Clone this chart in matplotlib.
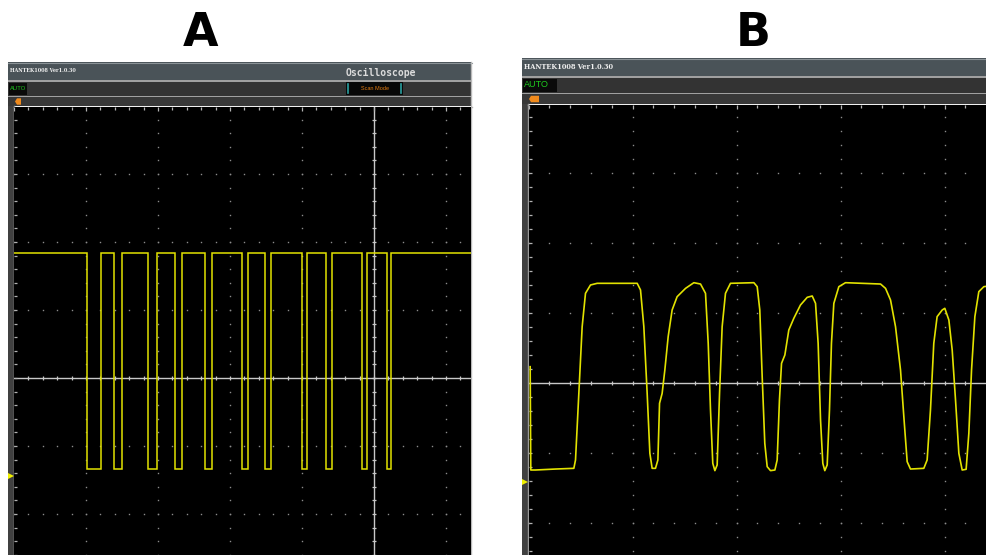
import matplotlib
matplotlib.use('Agg')
import matplotlib.pyplot as plt
import numpy as np
from matplotlib.patches import Rectangle, Polygon
from matplotlib.transforms import blended_transform_factory

# ---------------- data (oscilloscope divisions) ----------------
# Panel A: square pulse train -> edge times (div) and levels (div)
a_edges = [1.01, 1.21, 1.39, 1.50, 1.86, 1.99, 2.24, 2.33, 2.65, 2.75,
           3.17, 3.25, 3.49, 3.57, 4.00, 4.07, 4.33, 4.42, 4.83, 4.90,
           5.18, 5.24]
a_high = 1.84
a_low = -1.34
a_ground = -1.44

# Panel B: distorted waveform, time (div) and voltage (div)
b_t = [0.016, 0.022, 0.067, 0.26, 0.436, 0.452, 0.484, 0.516, 0.548, 0.596,
       0.66, 1.045, 1.077, 1.109, 1.141, 1.167, 1.189, 1.221, 1.244, 1.26,
       1.285, 1.311, 1.343, 1.381, 1.429, 1.51, 1.59, 1.654, 1.702, 1.728,
       1.75, 1.772, 1.792, 1.814, 1.837, 1.862, 1.894, 1.942, 2.167, 2.199,
       2.224, 2.247, 2.272, 2.295, 2.327, 2.369, 2.391, 2.413, 2.433, 2.465,
       2.503, 2.551, 2.615, 2.68, 2.728, 2.76, 2.785, 2.808, 2.83, 2.849,
       2.872, 2.894, 2.913, 2.936, 2.984, 3.048, 3.385, 3.433, 3.481, 3.529,
       3.577, 3.609, 3.641, 3.673, 3.801, 3.833, 3.865, 3.897, 3.929, 3.978,
       4.003, 4.042, 4.074, 4.106, 4.138, 4.17, 4.208, 4.234, 4.26, 4.292,
       4.33, 4.378, 4.426]
b_v = [0.233, -1.243, -1.243, -1.229, -1.219, -1.1, -0.148, 0.805, 1.281, 1.4,
       1.424, 1.424, 1.329, 0.805, -0.148, -1.005, -1.219, -1.219, -1.1, -0.29,
       -0.148, 0.186, 0.662, 1.043, 1.233, 1.352, 1.433, 1.414, 1.281, 0.567,
       -0.386, -1.148, -1.252, -1.171, -0.148, 0.805, 1.281, 1.424, 1.433, 1.376,
       1.043, 0.09, -0.862, -1.195, -1.252, -1.243, -1.1, -0.243, 0.281, 0.4,
       0.757, 0.924, 1.114, 1.224, 1.243, 1.138, 0.567, -0.529, -1.148, -1.252,
       -1.171, -0.386, 0.567, 1.138, 1.376, 1.433, 1.414, 1.352, 1.186, 0.805,
       0.186, -0.481, -1.124, -1.229, -1.219, -1.1, -0.386, 0.567, 0.948, 1.043,
       1.067, 0.9, 0.471, -0.243, -1.005, -1.243, -1.233, -0.719, 0.186, 0.948,
       1.305, 1.376, 1.386]
b_ground = -1.41

panel_labels = ["A", "B"]
version_text = "HANTEK1008 Ver1.0.30"

# ---------------- layout ----------------
W, H = 986, 555
fig = plt.figure(figsize=(W / 100, H / 100), dpi=100)
fig.patch.set_facecolor('white')

ov = fig.add_axes([0, 0, 1, 1], zorder=0)
ov.set_xlim(0, W)
ov.set_ylim(H, 0)
ov.axis('off')

HEAD = '#4a5358'
ROW = '#333333'
SEP = '#a0a0a0'
MROW = '#383838'
STRIP = '#404040'
TRACE = '#e2e200'
GRID = '#8c8c8c'
CROSS = '#c8c8c8'


def rect(x0, y0, x1, y1, color, z=1):
    ov.add_patch(Rectangle((x0, y0), x1 - x0, y1 - y0, facecolor=color,
                           edgecolor='none', zorder=z))


def chrome(x0, x1, y_top, y_h, y_r, y_m, y_p, px0, auto_w, auto_fs, ver_fs, mark_w):
    rect(x0, y_top, x1, y_h, HEAD)
    ov.plot([x0, x1], [y_top + 0.5, y_top + 0.5], color='#8a9296', lw=0.8, zorder=2)
    rect(x0, y_h, x1, y_h + 1.5, SEP)
    rect(x0, y_h + 1.5, x1, y_r, ROW)
    rect(x0, y_r, x1, y_r + 1.5, SEP)
    rect(x0, y_r + 1.5, x1, y_p, MROW)
    rect(x0, y_p, px0, H, STRIP)
    # plot border (top + left)
    ov.plot([px0, x1], [y_p + 0.5, y_p + 0.5], color='#b4b4b4', lw=1.0, zorder=3)
    ov.plot([px0 - 0.5, px0 - 0.5], [y_p, H], color='#9a9a9a', lw=1.0, zorder=3)
    # version text
    ov.text(x0 + 2, (y_top + y_h) / 2, version_text, fontsize=ver_fs,
            family='DejaVu Serif', weight='bold', color='#f0f0f0',
            va='center', ha='left', zorder=4)
    # AUTO box
    rect(x0 + 1, y_h + 2.5, x0 + 1 + auto_w, y_r - 1, '#0a0a0a', z=3)
    ov.text(x0 + 2, (y_h + y_r) / 2 + 0.5, "AUTO", fontsize=auto_fs,
            family='Liberation Sans', color='#1ec81e', va='center', ha='left',
            zorder=4)
    # orange trigger-position marker
    ym = (y_r + 1.5 + y_p) / 2
    ov.add_patch(Polygon([[px0 + 1, ym], [px0 + 3, ym - 3.2], [px0 + mark_w, ym - 3.2],
                          [px0 + mark_w, ym + 3.2], [px0 + 3, ym + 3.2]],
                         closed=True, facecolor='#f08a1c', edgecolor='none', zorder=4))


# Panel A chrome
chrome(8, 471.5, 62, 80, 95.5, 97, 106, 14, 18, 4.2, 3.5, 7)
ov.plot([471, 471], [62, H], color='#b8b8b8', lw=1.0, zorder=3)
ov.text(380.5, 72.5, "Oscilloscope", fontsize=7, family='DejaVu Sans Mono',
        weight='bold', color='#dcdcdc', ha='center', va='center', zorder=4)
rect(346, 82, 403, 94.5, '#080808', z=3)
ov.plot([348, 348], [84, 93], color='#2aa0a0', lw=1.2, zorder=4)
ov.plot([401, 401], [84, 93], color='#2aa0a0', lw=1.2, zorder=4)
ov.text(375, 88.5, "Scan Mode", fontsize=4, family='Liberation Sans',
        color='#e07a10', ha='center', va='center', zorder=4)

# Panel B chrome
chrome(522, W, 58, 76, 92.5, 94, 104, 528, 34, 6.5, 4.8, 11)

# panel letters
ov.text(201, 33, panel_labels[0], fontsize=33, weight='bold', family='DejaVu Sans',
        ha='center', va='center', color='black')
ov.text(753, 34, panel_labels[1], fontsize=33, weight='bold', family='DejaVu Sans',
        ha='center', va='center', color='black')


def screen_axes(left, right, top, bottom, x0px, yc_px, pxx, pxy, center_x):
    ax = fig.add_axes([left / W, 1 - bottom / H, (right - left) / W, (bottom - top) / H],
                      zorder=1)
    ax.set_facecolor('black')
    for s in ax.spines.values():
        s.set_visible(False)
    ax.set_xticks([])
    ax.set_yticks([])
    xmin = (left - x0px) / pxx
    xmax = (right - x0px) / pxx
    ymax = (yc_px - top) / pxy
    ymin = -(bottom - yc_px) / pxy
    ax.set_xlim(xmin, xmax)
    ax.set_ylim(ymin, ymax)
    mx = np.round(np.arange(0, xmax + 1e-9, 0.2), 3)
    my = np.round(np.arange(-4, 4.0001, 0.2), 3)
    my = my[(my > ymin) & (my < ymax)]
    # dotted grid
    for gx in range(1, int(np.floor(xmax)) + 1):
        if gx == center_x:
            continue
        ax.plot(np.full(len(my), gx), my, ls='none', marker='s', ms=1.0, mew=0,
                color=GRID)
    for gy in range(-4, 5):
        if gy == 0 or not (ymin < gy < ymax - 0.1):
            continue
        ax.plot(mx, np.full(len(mx), gy), ls='none', marker='s', ms=1.0, mew=0,
                color=GRID)
    # crosshair
    ax.axhline(0, color=CROSS, lw=1.0)
    th = 2.0 / pxy
    ax.vlines(mx[1:], -th, th, color=CROSS, lw=0.9)
    if center_x < xmax:
        ax.axvline(center_x, color=CROSS, lw=1.0)
        tw = 2.2 / pxx
        ax.hlines(my, center_x - tw, center_x + tw, color=CROSS, lw=0.9)
    # border ticks
    ax.hlines(my, 0, 3.0 / pxx, color='#b4b4b4', lw=0.9)
    lens = np.where(np.isclose(mx % 1, 0) | np.isclose(mx % 1, 1), 4.5, 3.0)
    ax.vlines(mx, ymax - lens / pxy, ymax, color='#b4b4b4', lw=0.9)
    return ax


# Panel A screen
axA = screen_axes(14, 470.5, 106.5, H, 14, 378, 72, 68, 5)
xs, ys = [0.0], [a_high]
lev = a_high
for e in a_edges:
    other = a_low if lev == a_high else a_high
    xs += [e, e]
    ys += [lev, other]
    lev = other
xs.append(axA.get_xlim()[1])
ys.append(lev)
axA.plot(xs, ys, color=TRACE, lw=1.1, solid_joinstyle='miter')

# Panel B screen
axB = screen_axes(528.5, W, 104.5, H, 528.5, 383, 104, 70, 5)
axB.plot(b_t, b_v, color=TRACE, lw=1.2)

# trigger level markers on the left strips
for ax, g in ((axA, a_ground), (axB, b_ground)):
    tr = blended_transform_factory(ax.transAxes, ax.transData)
    ax.plot([-0.007], [g], marker='>', ms=4.5, color='#f0f000', mew=0,
            transform=tr, clip_on=False)

fig.savefig('out.png', dpi=100, facecolor='white')
